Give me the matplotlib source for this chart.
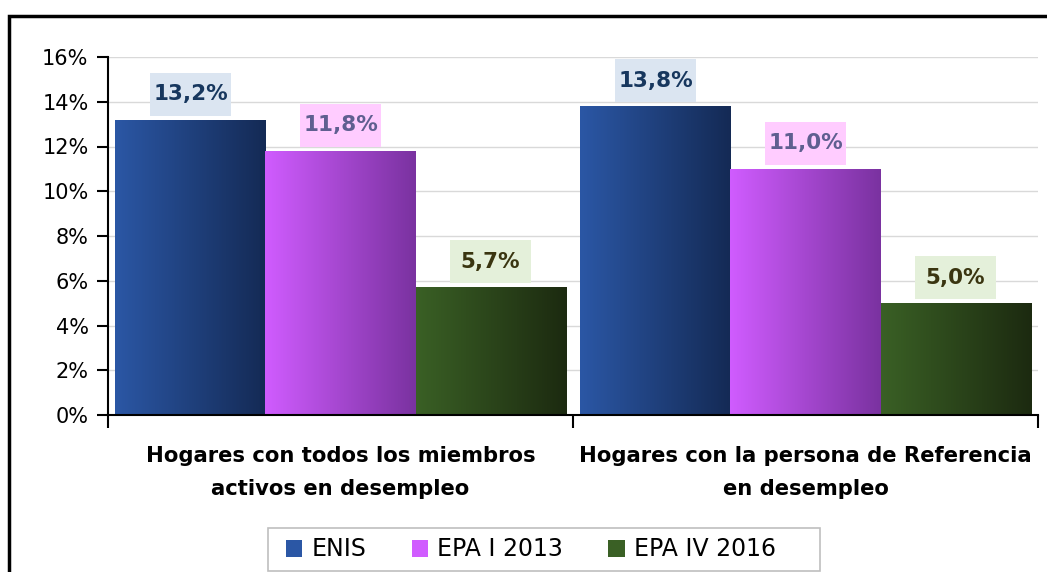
import numpy as np
import matplotlib
matplotlib.use("Agg")
import matplotlib.pyplot as plt
from matplotlib.colors import LinearSegmentedColormap
from matplotlib.patches import Rectangle, Patch

categories = ["Hogares con todos los miembros\nactivos en desempleo",
              "Hogares con la persona de Referencia\nen desempleo"]
series = ["ENIS", "EPA I 2013", "EPA IV 2016"]
values = {
    "ENIS": [13.2, 13.8],
    "EPA I 2013": [11.8, 11.0],
    "EPA IV 2016": [5.7, 5.0],
}
labels = {
    "ENIS": ["13,2%", "13,8%"],
    "EPA I 2013": ["11,8%", "11,0%"],
    "EPA IV 2016": ["5,7%", "5,0%"],
}
yticks = [0, 2, 4, 6, 8, 10, 12, 14, 16]

# gradient (left, right), label box color, label text color
styles = {
    "ENIS": (("#2b57a5", "#142a55"), "#dbe5f1", "#17375e"),
    "EPA I 2013": (("#d05cff", "#7a32a0"), "#ffccff", "#5f5f90"),
    "EPA IV 2016": (("#3a6025", "#1c2a10"), "#e4f0da", "#3a3510"),
}

plt.rcParams["font.family"] = "DejaVu Sans"

fig = plt.figure(figsize=(10.47, 5.72), dpi=100)
ax = fig.add_axes([108 / 1047, 1 - 415 / 572, 930 / 1047, 358 / 572])

# outer frame (cut off at right/bottom like the reference)
fig.patches.append(Rectangle((9 / 1047, -0.1), 1.2, 1 - 16 / 572 + 0.1,
                             transform=fig.transFigure, fill=False,
                             edgecolor="black", linewidth=2.5))

bar_w = 0.3226
box_w, box_h, box_gap = 0.174, 1.92, 0.18
x = np.arange(len(categories))
grad = np.linspace(0, 1, 256).reshape(1, -1)
for i, s in enumerate(series):
    (c0, c1), bg, fg = styles[s]
    cmap = LinearSegmentedColormap.from_list(s, [c0, c1])
    xs = x + (i - 1) * bar_w
    bars = ax.bar(xs, values[s], width=bar_w, color="none", edgecolor="none")
    for b, v, lab in zip(bars, values[s], labels[s]):
        x0 = b.get_x()
        cx = x0 + bar_w / 2
        im = ax.imshow(grad, cmap=cmap, aspect="auto",
                       extent=(x0, x0 + bar_w, 0, v), zorder=2)
        im.set_clip_path(b)
        ax.add_patch(Rectangle((cx - box_w / 2, v + box_gap), box_w, box_h,
                               facecolor=bg, edgecolor="none", zorder=3))
        ax.text(cx, v + box_gap + box_h / 2, lab, ha="center", va="center",
                fontsize=15.5, fontweight="bold", color=fg, zorder=4)

ax.set_xlim(-0.5, 1.5)
ax.set_ylim(0, 16)
ax.set_yticks(yticks)
ax.set_yticklabels([f"{t}%" for t in yticks], fontsize=15)
ax.yaxis.grid(True, color="#d9d9d9", linewidth=1)
ax.set_axisbelow(True)

ax.set_xticks([-0.5, 0.5, 1.5])
ax.set_xticklabels([])
ax.set_xticks(x, minor=True)
ax.set_xticklabels(categories, minor=True, fontsize=15.2, fontweight="bold",
                   linespacing=1.85)
ax.tick_params(axis="x", which="major", direction="out", length=9,
               width=1.5)
ax.tick_params(axis="x", which="minor", length=0, pad=22)
ax.tick_params(axis="y", direction="out", length=8, width=1.5, pad=6)

for side in ["top", "right"]:
    ax.spines[side].set_visible(False)
ax.spines["left"].set_linewidth(1.5)
ax.spines["bottom"].set_linewidth(1.5)

# legend frame drawn separately (Excel-style uneven padding)
fig.patches.append(Rectangle((268 / 1047, 1 - 571 / 572), 552 / 1047,
                             43 / 572, transform=fig.transFigure,
                             facecolor="white", edgecolor="#bfbfbf",
                             linewidth=1.2))
handles = [Patch(facecolor=styles[s][0][0], edgecolor="none", label=s)
           for s in series]
leg = fig.legend(handles=handles, loc="center", ncol=3,
                 bbox_to_anchor=(531 / 1047, 1 - 549.5 / 572),
                 fontsize=17, frameon=False,
                 handlelength=0.7, handleheight=0.7, handletextpad=0.4,
                 columnspacing=1.9, borderpad=0, borderaxespad=0)

fig.savefig("out.png", dpi=100)
